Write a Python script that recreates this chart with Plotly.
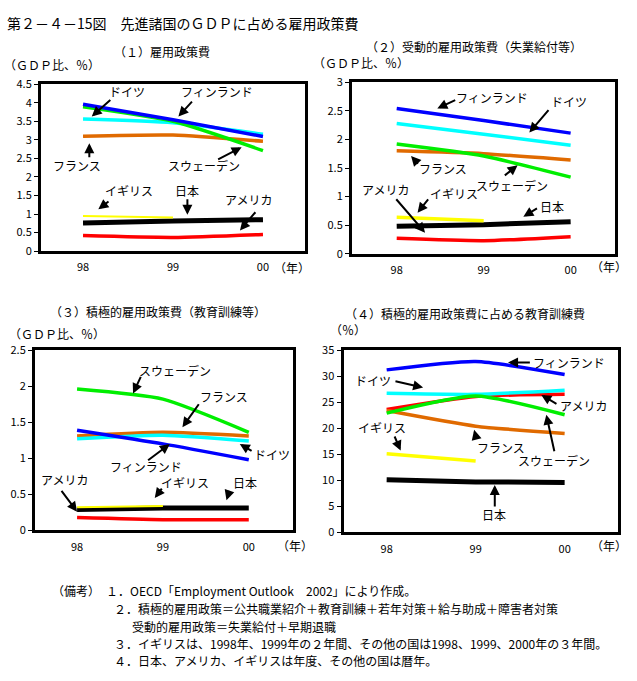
import plotly.graph_objects as go

FONT = "Noto Sans CJK JP"

years = ["98", "99", "00"]
years_uk = ["98", "99"]

names = ["フィンランド", "ドイツ", "スウェーデン", "フランス", "イギリス", "日本", "アメリカ"]

# (1) 雇用政策費 (GDP比, %)
fin_1 = [3.96, 3.54, 3.09]
deu_1 = [3.56, 3.46, 3.15]
swe_1 = [3.89, 3.50, 2.71]
fra_1 = [3.10, 3.13, 2.96]
gbr_1 = [0.95, 0.91]
jpn_1 = [0.76, 0.81, 0.85]
usa_1 = [0.42, 0.37, 0.45]

# (2) 受動的雇用政策費 (GDP比, %)
fin_2 = [2.54, 2.33, 2.11]
deu_2 = [2.28, 2.09, 1.90]
swe_2 = [1.92, 1.71, 1.34]
fra_2 = [1.80, 1.75, 1.64]
gbr_2 = [0.64, 0.58]
jpn_2 = [0.48, 0.51, 0.56]
usa_2 = [0.27, 0.23, 0.30]

# (3) 積極的雇用政策費 (GDP比, %)
fin_3 = [1.39, 1.20, 0.98]
deu_3 = [1.27, 1.32, 1.24]
swe_3 = [1.96, 1.82, 1.36]
fra_3 = [1.31, 1.36, 1.31]
gbr_3 = [0.32, 0.34]
jpn_3 = [0.29, 0.31, 0.31]
usa_3 = [0.18, 0.15, 0.15]

# (4) 積極的雇用政策費に占める教育訓練費 (%)
fin_4 = [31.2, 32.8, 30.3]
deu_4 = [26.7, 26.5, 27.3]
swe_4 = [22.9, 26.2, 22.6]
fra_4 = [23.4, 20.4, 19.0]
gbr_4 = [15.1, 13.7]
jpn_4 = [10.1, 9.7, 9.6]
usa_4 = [23.6, 26.1, 26.5]

panel_titles = [
    "（１）雇用政策費",
    "（２）受動的雇用政策費（失業給付等）",
    "（３）積極的雇用政策費（教育訓練等）",
    "（４）積極的雇用政策費に占める教育訓練費",
]
unit_labels = ["（ＧＤＰ比、％）", "（ＧＤＰ比、％）", "（ＧＤＰ比、％）", "（％）"]
year_unit = "（年）"

main_title = "第２－４－15図　先進諸国のＧＤＰに占める雇用政策費"
notes = [
    "（備考）　１．OECD「Employment Outlook　2002」により作成。",
    "２．積極的雇用政策＝公共職業紹介＋教育訓練＋若年対策＋給与助成＋障害者対策",
    "受動的雇用政策＝失業給付＋早期退職",
    "３．イギリスは、1998年、1999年の２年間、その他の国は1998、1999、2000年の３年間。",
    "４．日本、アメリカ、イギリスは年度、その他の国は暦年。",
]

panels = [
    dict(fin=fin_1, deu=deu_1, swe=swe_1, fra=fra_1, gbr=gbr_1, jpn=jpn_1, usa=usa_1),
    dict(fin=fin_2, deu=deu_2, swe=swe_2, fra=fra_2, gbr=gbr_2, jpn=jpn_2, usa=usa_2),
    dict(fin=fin_3, deu=deu_3, swe=swe_3, fra=fra_3, gbr=gbr_3, jpn=jpn_3, usa=usa_3),
    dict(fin=fin_4, deu=deu_4, swe=swe_4, fra=fra_4, gbr=gbr_4, jpn=jpn_4, usa=usa_4),
]

keys = ["fin", "deu", "swe", "fra", "gbr", "jpn", "usa"]
label = dict(zip(keys, names))
color = dict(fin="#0000ff", deu="#00ffff", swe="#00ee00", fra="#e06a00",
             gbr="#ffff00", jpn="#000000", usa="#ff0000")
draw_order = ["usa", "jpn", "gbr", "fra", "deu", "swe", "fin"]

W, H = 637, 681
# plot-area boxes in pixels: left, right, top, bottom
boxes = [(41, 305, 77, 248), (352, 615, 75, 250.7), (35, 293, 349.3, 534), (343.5, 617.5, 349.3, 536)]
xranges = [[-0.467, 2.467], [-0.514, 2.51], [-0.49, 2.515], [-0.485, 2.594]]
yranges = [[0, 4.5], [0, 3], [0, 2.5], [0, 35]]
ydticks = [0.5, 0.5, 0.5, 5]
gbr_width = [2, 3.5, 2, 3.5]

# annotation layout per panel: key, text-centre (x, y), arrow tail (x, y), arrow head (x, y)
ann = [
    [("deu", 0.485, 4.29, 0.32, 4.11, 0.097, 3.63),
     ("fin", 1.49, 4.29, 1.226, 4.07, 1.06, 3.63),
     ("fra", -0.063, 2.32, 0.07, 2.49, 0.07, 2.91),
     ("swe", 1.344, 2.32, 1.485, 2.45, 1.763, 2.80),
     ("gbr", 0.511, 1.63, 0.30, 1.37, 0.17, 1.13),
     ("jpn", 1.16, 1.63, 1.16, 1.44, 1.16, 0.98),
     ("usa", 1.84, 1.39, 1.93, 1.09, 1.744, 0.56)],
    [("fin", 1.10, 2.74, 0.69, 2.70, 0.467, 2.54),
     ("deu", 1.98, 2.66, 1.76, 2.54, 1.525, 2.12),
     ("fra", 0.536, 1.49, 0.26, 1.55, 0.165, 1.71),
     ("swe", 1.32, 1.19, 1.226, 1.35, 1.39, 1.55),
     ("usa", -0.134, 1.12, -0.02, 0.98, 0.326, 0.37),
     ("gbr", 0.66, 1.06, 0.375, 0.98, 0.24, 0.72),
     ("jpn", 1.78, 0.82, 1.63, 0.81, 1.456, 0.65)],
    [("swe", 1.146, 2.22, 0.75, 2.15, 0.652, 1.90),
     ("fra", 1.71, 1.86, 1.43, 1.77, 1.227, 1.43),
     ("fin", 0.80, 0.89, 0.81, 0.957, 1.08, 1.20),
     ("deu", 2.27, 1.05, 2.05, 1.09, 1.895, 1.20),
     ("usa", -0.144, 0.71, -0.194, 0.57, 0.0, 0.26),
     ("gbr", 1.26, 0.66, 1.0, 0.60, 0.905, 0.45),
     ("jpn", 1.96, 0.66, 1.78, 0.57, 1.74, 0.42)],
    [("fin", 2.045, 32.7, 1.626, 32.6, 1.364, 32.6),
     ("deu", -0.15, 29.2, 0.082, 29.1, 0.41, 27.8),
     ("usa", 2.21, 24.3, 1.925, 24.5, 1.738, 26.4),
     ("gbr", -0.05, 20.1, 0.082, 18.7, 0.157, 15.7),
     ("fra", 1.28, 16.3, 1.01, 17.9, 0.983, 19.7),
     ("swe", 1.877, 13.8, 1.888, 15.3, 1.794, 22.6),
     ("jpn", 1.205, 3.46, 1.215, 4.7, 1.215, 9.1)],
]

# title / unit / year-label pixel positions
title_pos = [(162, 44), (474, 38), (157.5, 310), (465, 312)]
unit_pos = [(52, 57), (361, 55), (57, 332), (348, 328)]
year_pos = [(292, 265), (609, 264), (295, 549), (609, 549)]


def px(x):
    return x / W


def py(y):
    return 1 - y / H


fig = go.Figure()
annotations = []

for i, p in enumerate(panels):
    n = "" if i == 0 else str(i + 1)
    xa, ya = "x" + n, "y" + n
    for k in draw_order:
        xs = years_uk if k == "gbr" else years
        w = 5 if k == "jpn" else (gbr_width[i] if k == "gbr" else 3.5)
        fig.add_trace(go.Scatter(
            x=xs, y=p[k], mode="lines", name=label[k], showlegend=False,
            line=dict(color=color[k], width=w, shape="spline", smoothing=0.6),
            xaxis=xa, yaxis=ya, hoverinfo="x+y+name"))
    l, r, t, b = boxes[i]
    axis_common = dict(showline=True, linecolor="black", linewidth=3, mirror=True,
                       showgrid=False, zeroline=False)
    fig.update_layout(**{
        "xaxis" + n: dict(domain=[px(l), px(r)], anchor=ya, type="category",
                          range=xranges[i], ticks="", ticklabelstandoff=4,
                          tickfont=dict(family=FONT, size=11, color="black"),
                          **axis_common),
        "yaxis" + n: dict(domain=[py(b), py(t)], anchor=xa, range=yranges[i],
                          dtick=ydticks[i], tick0=0, ticks="outside", ticklen=4,
                          tickwidth=1, tickcolor="black",
                          tickfont=dict(family=FONT, size=11, color="black"),
                          **axis_common),
    })
    for (k, tx, ty, ax_, ay_, hx, hy) in ann[i]:
        annotations.append(dict(x=tx, y=ty, xref=xa, yref=ya, text=label[k],
                                showarrow=False, font=dict(family=FONT, size=12, color="black"),
                                xanchor="center", yanchor="middle"))
        annotations.append(dict(x=hx, y=hy, ax=ax_, ay=ay_, xref=xa, yref=ya,
                                axref=xa, ayref=ya, text="", showarrow=True,
                                arrowhead=2, arrowsize=1, arrowwidth=2, arrowcolor="black"))
    annotations.append(dict(x=px(title_pos[i][0]), y=py(title_pos[i][1]), xref="paper", yref="paper",
                            text=panel_titles[i], showarrow=False, xanchor="center", yanchor="middle",
                            font=dict(family=FONT, size=12, color="black")))
    annotations.append(dict(x=px(unit_pos[i][0]), y=py(unit_pos[i][1]), xref="paper", yref="paper",
                            text=unit_labels[i], showarrow=False, xanchor="center", yanchor="middle",
                            font=dict(family=FONT, size=12, color="black")))
    annotations.append(dict(x=px(year_pos[i][0]), y=py(year_pos[i][1]), xref="paper", yref="paper",
                            text=year_unit, showarrow=False, xanchor="center", yanchor="middle",
                            font=dict(family=FONT, size=12, color="black")))

annotations.append(dict(x=px(5), y=py(14), xref="paper", yref="paper", text=main_title,
                        showarrow=False, xanchor="left", yanchor="middle",
                        font=dict(family=FONT, size=14, color="black")))

note_pos = [(50, 595), (112, 614), (130, 632), (112, 650), (112, 667)]
for (nx, ny), txt in zip(note_pos, notes):
    annotations.append(dict(x=px(nx), y=py(ny), xref="paper", yref="paper", text=txt,
                            showarrow=False, xanchor="left", yanchor="middle",
                            font=dict(family=FONT, size=12, color="black")))

fig.update_layout(width=W, height=H, margin=dict(l=0, r=0, t=0, b=0), autosize=False,
                  paper_bgcolor="white", plot_bgcolor="white", annotations=annotations,
                  font=dict(family=FONT, color="black"))

fig.write_html("out.html", config={"displayModeBar": False},
               post_script="document.body.style.margin='0';")
